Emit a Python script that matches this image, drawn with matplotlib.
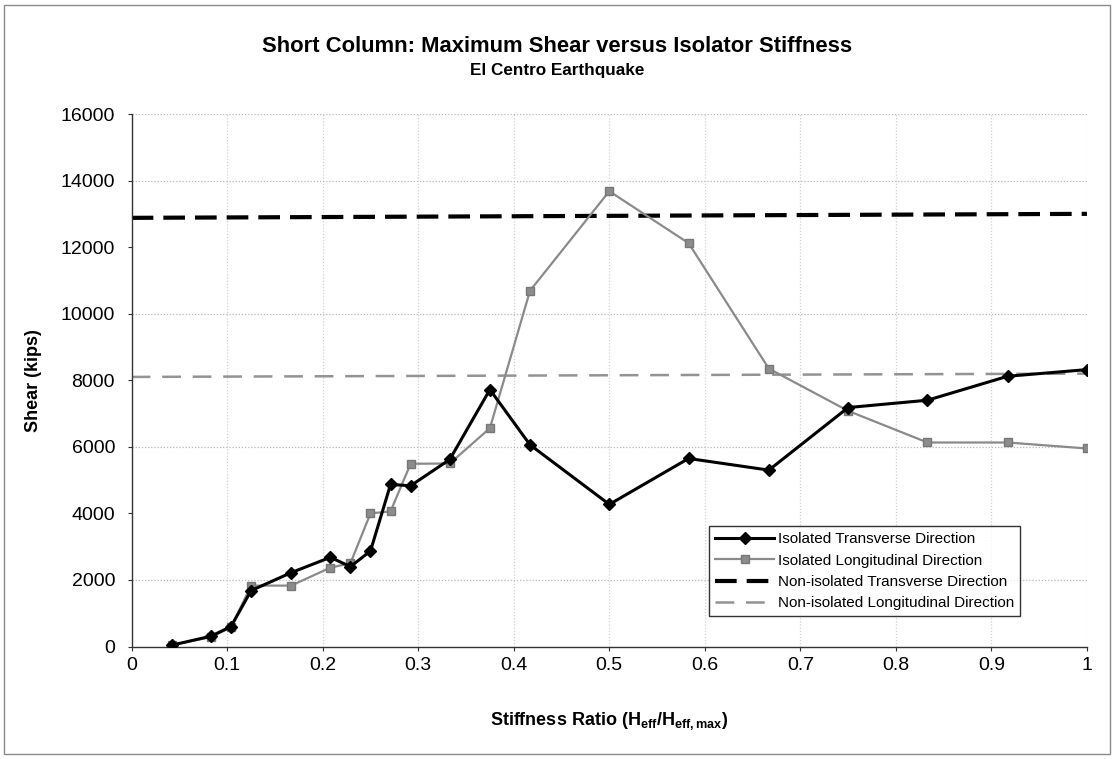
import matplotlib
matplotlib.use("Agg")
import matplotlib.pyplot as plt
from matplotlib.patches import Rectangle

plt.rcParams['font.family'] = ['Liberation Sans', 'DejaVu Sans']
plt.rcParams['mathtext.fontset'] = 'custom'
plt.rcParams['mathtext.rm'] = 'Liberation Sans:bold'
plt.rcParams['mathtext.it'] = 'Liberation Sans:bold'
plt.rcParams['mathtext.bf'] = 'Liberation Sans:bold'

# Stiffness ratio H_eff / H_eff,max
stiffness_ratio = [0.042, 0.083, 0.104, 0.125, 0.167, 0.208, 0.229, 0.250, 0.271, 0.292,
                   0.333, 0.375, 0.417, 0.500, 0.583, 0.667, 0.750, 0.833, 0.917, 1.000]

# Maximum column shear (kips), isolated bridge
shear_iso_transverse = [40, 310, 600, 1680, 2220, 2680, 2400, 2870, 4870, 4830,
                        5620, 7720, 6060, 4270, 5650, 5300, 7180, 7400, 8120, 8320]
shear_iso_longitudinal = [50, 280, 580, 1830, 1830, 2370, 2500, 4000, 4060, 5490,
                          5500, 6560, 10690, 13680, 12120, 8350, 7080, 6130, 6130, 5950]

# Non-isolated reference shears (kips), end values of each line
nonisolated_x = [0.0, 1.0]
shear_noniso_transverse = [12880, 13000]
shear_noniso_longitudinal = [8100, 8200]

x_ticks = [0, 0.1, 0.2, 0.3, 0.4, 0.5, 0.6, 0.7, 0.8, 0.9, 1]
x_tick_labels = ['0', '0.1', '0.2', '0.3', '0.4', '0.5', '0.6', '0.7', '0.8', '0.9', '1']
y_ticks = [0, 2000, 4000, 6000, 8000, 10000, 12000, 14000, 16000]

fig = plt.figure(figsize=(11.14, 7.59), dpi=100)
ax = fig.add_axes([0.1182, 0.1482, 0.8575, 0.7016])

ax.plot(stiffness_ratio, shear_iso_transverse, color='black', lw=2.2,
        marker='D', markersize=6.5, markerfacecolor='black', markeredgecolor='black',
        label='Isolated Transverse Direction', zorder=4)
ax.plot(stiffness_ratio, shear_iso_longitudinal, color='#8a8a8a', lw=1.6,
        marker='s', markersize=6, markerfacecolor='#8c8c8c', markeredgecolor='#777777',
        label='Isolated Longitudinal Direction', zorder=3)
ax.plot(nonisolated_x, shear_noniso_transverse, color='black', lw=3.0,
        dashes=(5.2, 2.4), label='Non-isolated Transverse Direction', zorder=2)
ax.plot(nonisolated_x, shear_noniso_longitudinal, color='#939393', lw=1.8,
        dashes=(7.5, 4.7), label='Non-isolated Longitudinal Direction', zorder=2)

ax.set_xlim(0, 1)
ax.set_ylim(0, 16000)
ax.set_xticks(x_ticks)
ax.set_xticklabels(x_tick_labels)
ax.set_yticks(y_ticks)

# faint dotted gridlines
for xv in x_ticks[1:]:
    ax.axvline(xv, color='#d2d2d2', lw=0.9, linestyle=(0, (1, 1.5)), zorder=0)
for yv in y_ticks[1::2] + [y_ticks[-1]]:
    ax.axhline(yv, color='#b8b8b8', lw=0.9, linestyle=(0, (1, 1.5)), zorder=0)

for side in ('top', 'right'):
    ax.spines[side].set_visible(False)
for side in ('left', 'bottom'):
    ax.spines[side].set_color('#333333')
    ax.spines[side].set_linewidth(1.0)
ax.tick_params(axis='both', direction='out', length=3, width=0.8, colors='#333333',
               labelsize=14, labelcolor='black')
ax.tick_params(axis='x', pad=4.5)
ax.tick_params(axis='y', pad=9)

ax.set_xlabel(r'Stiffness Ratio (H$_{\mathrm{eff}}$/H$_{\mathrm{eff,max}}$)',
              fontsize=13, fontweight='bold', va='baseline')
ax.xaxis.set_label_coords(0.5, -0.147)
ax.set_ylabel('Shear (kips)', fontsize=13, fontweight='bold', va='center')
ax.yaxis.set_label_coords(-0.1025, 0.5)

fig.text(0.5, 0.9315, 'Short Column: Maximum Shear versus Isolator Stiffness',
         ha='center', va='baseline', fontsize=15.8, fontweight='bold')
fig.text(0.5, 0.9015, 'El Centro Earthquake', ha='center', va='baseline',
         fontsize=12.3, fontweight='bold')

leg = ax.legend(loc='lower left', bbox_to_anchor=(0.6043, 0.0573), fontsize=11,
                frameon=True, fancybox=False, edgecolor='black', handlelength=3.9,
                handletextpad=0.26, borderpad=0.38, labelspacing=0.48, borderaxespad=0)
leg.get_frame().set_linewidth(1.0)

fig.patches.append(Rectangle((0.004, 0.006), 0.992, 0.988, transform=fig.transFigure,
                             fill=False, edgecolor='#8a8a8a', lw=1.0))

fig.savefig('out.png', dpi=100)
